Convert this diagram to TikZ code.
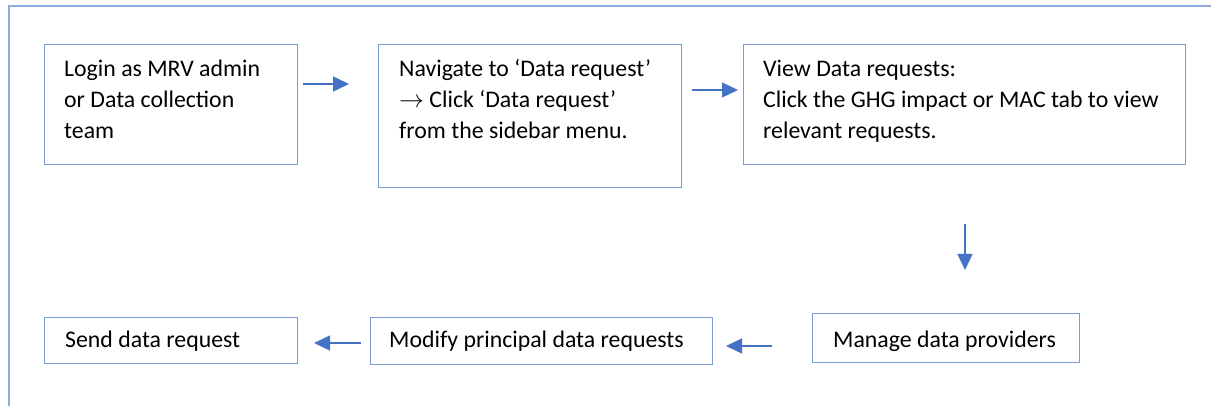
\documentclass[tikz,border=0pt]{standalone}
\usepackage{fontspec}
\setmainfont{Carlito}
\usetikzlibrary{arrows.meta}
\definecolor{framec}{HTML}{8FAADC}
\definecolor{boxc}{HTML}{7B9BD6}
\definecolor{arrc}{HTML}{4472C4}
\begin{document}
\begin{tikzpicture}[x=1pt,y=-1pt,
  box/.style={draw=boxc, line width=1.3pt, inner sep=0pt, anchor=north west, rectangle},
  txt/.style={anchor=base west, inner sep=0pt, font=\fontsize{23.8}{30.7}\selectfont},
  arr/.style={draw=arrc, line width=1.4pt, -{Triangle[length=16pt,width=15pt]}}]
\useasboundingbox (0,0) rectangle (1211,406);
% outer frame (clipped)
\draw[framec, line width=1.5pt] (9,406) -- (9,6) -- (1211,6);
% boxes
\node[box, minimum width=253pt, minimum height=120pt] (b1) at (44,44) {};
\node[box, minimum width=303pt, minimum height=143pt] (b2) at (378,44) {};
\node[box, minimum width=442pt, minimum height=120pt] (b3) at (743,44) {};
\node[box, minimum width=267pt, minimum height=49pt] (b4) at (812,313) {};
\node[box, minimum width=342pt, minimum height=47pt] (b5) at (370,317) {};
\node[box, minimum width=253pt, minimum height=46pt] (b6) at (44,317) {};
% texts
\node[txt] (t1) at (64,77) {\begin{tabular}[t]{@{}l@{}}Login as MRV admin\\or Data collection\\team\end{tabular}};
\node[txt] (t2) at (399,77) {\begin{tabular}[t]{@{}l@{}}Navigate to ‘Data request’\\$\rightarrow$ Click ‘Data request’\\from the sidebar menu.\end{tabular}};
\node[txt] (t3) at (763,77) {\begin{tabular}[t]{@{}l@{}}View Data requests:\\Click the GHG impact or MAC tab to view\\relevant requests.\end{tabular}};
\node[txt] (t4) at (833,347) {Manage data providers};
\node[txt] (t5) at (389,348) {Modify principal data requests};
\node[txt] (t6) at (65,348) {Send data request};
% arrows
\coordinate (a1s) at (303,84);  \coordinate (a1e) at (349,84);
\coordinate (a2s) at (692,90);  \coordinate (a2e) at (738,90);
\coordinate (a3s) at (965,224); \coordinate (a3e) at (965,270);
\coordinate (a4s) at (772,346); \coordinate (a4e) at (726,346);
\coordinate (a5s) at (361,343); \coordinate (a5e) at (314,343);
\draw[arr] (a1s) -- (a1e);
\draw[arr] (a2s) -- (a2e);
\draw[arr] (a3s) -- (a3e);
\draw[arr] (a4s) -- (a4e);
\draw[arr] (a5s) -- (a5e);
\end{tikzpicture}
\end{document}
